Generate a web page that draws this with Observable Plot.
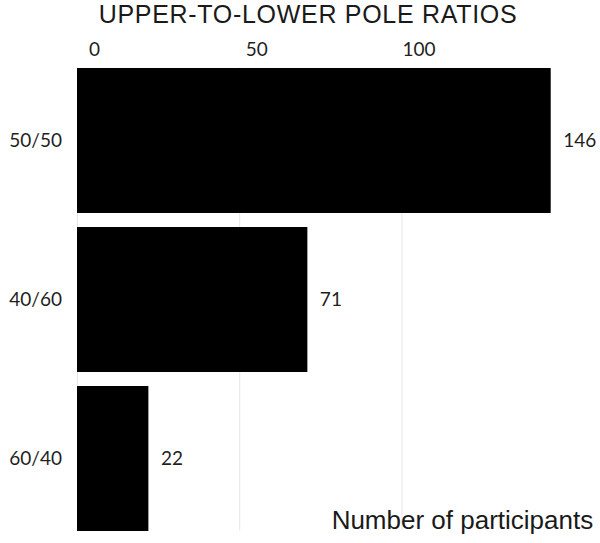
<!DOCTYPE html>
<html>
<head>
<meta charset="utf-8">
<script src="https://cdn.jsdelivr.net/npm/d3@7"></script>
<script src="https://cdn.jsdelivr.net/npm/@observablehq/plot@0.6"></script>
<style>
  html, body { margin: 0; padding: 0; background: #fff; }
  #wrap { position: relative; width: 600px; }
  #title {
    height: 28px; line-height: 28px; padding-left: 16px; box-sizing: border-box;
    text-align: center; font-family: "Liberation Sans", Arial, sans-serif;
    font-size: 25px; letter-spacing: 0.7px; color: #1a1a1a; white-space: nowrap;
  }
</style>
</head>
<body>
<div id="wrap">
  <div id="title">UPPER-TO-LOWER POLE RATIOS</div>
  <div id="chart"></div>
</div>
<script>
const categories = ["50/50", "40/60", "60/40"];
const counts = [146, 71, 22];
const xTicks = [0, 50, 100];
const xLabel = "Number of participants";

const data = categories.map((c, i) => ({ratio: c, count: counts[i]}));

const chart = Plot.plot({
  width: 600,
  height: 515,
  marginLeft: 77,
  marginRight: 49.3,
  marginTop: 39.5,
  marginBottom: 12.5,
  style: {fontFamily: "Lato, 'Open Sans', sans-serif", fontSize: "19px", color: "#1f1f1f", background: "#fff"},
  x: {domain: [0, 146], ticks: xTicks},
  y: {domain: categories, paddingInner: 0.09, paddingOuter: 0},
  marks: [
    Plot.gridX(xTicks, {stroke: "#e6e6e6", strokeOpacity: 1, strokeWidth: 1}),
    Plot.barX(data, {x: "count", y: "ratio", fill: "#000"}),
    Plot.text(data, {x: "count", y: "ratio", text: d => String(d.count), textAnchor: "start", dx: 12, fill: "#1f1f1f", fontSize: 19}),
    Plot.axisX(xTicks, {anchor: "top", tickSize: 0, tickPadding: 12, dx: 17, fontSize: 19, label: null}),
    Plot.axisY({tickSize: 0, tickPadding: 15.5, fontSize: 19, label: null}),
    Plot.text([xLabel], {frameAnchor: "bottom-right", text: d => d, dx: 42, dy: -2, lineAnchor: "bottom", textAnchor: "end", fontFamily: "'Liberation Sans', Arial, sans-serif", fontSize: 26, fill: "#1a1a1a"})
  ]
});
document.getElementById("chart").appendChild(chart);
</script>
</body>
</html>
